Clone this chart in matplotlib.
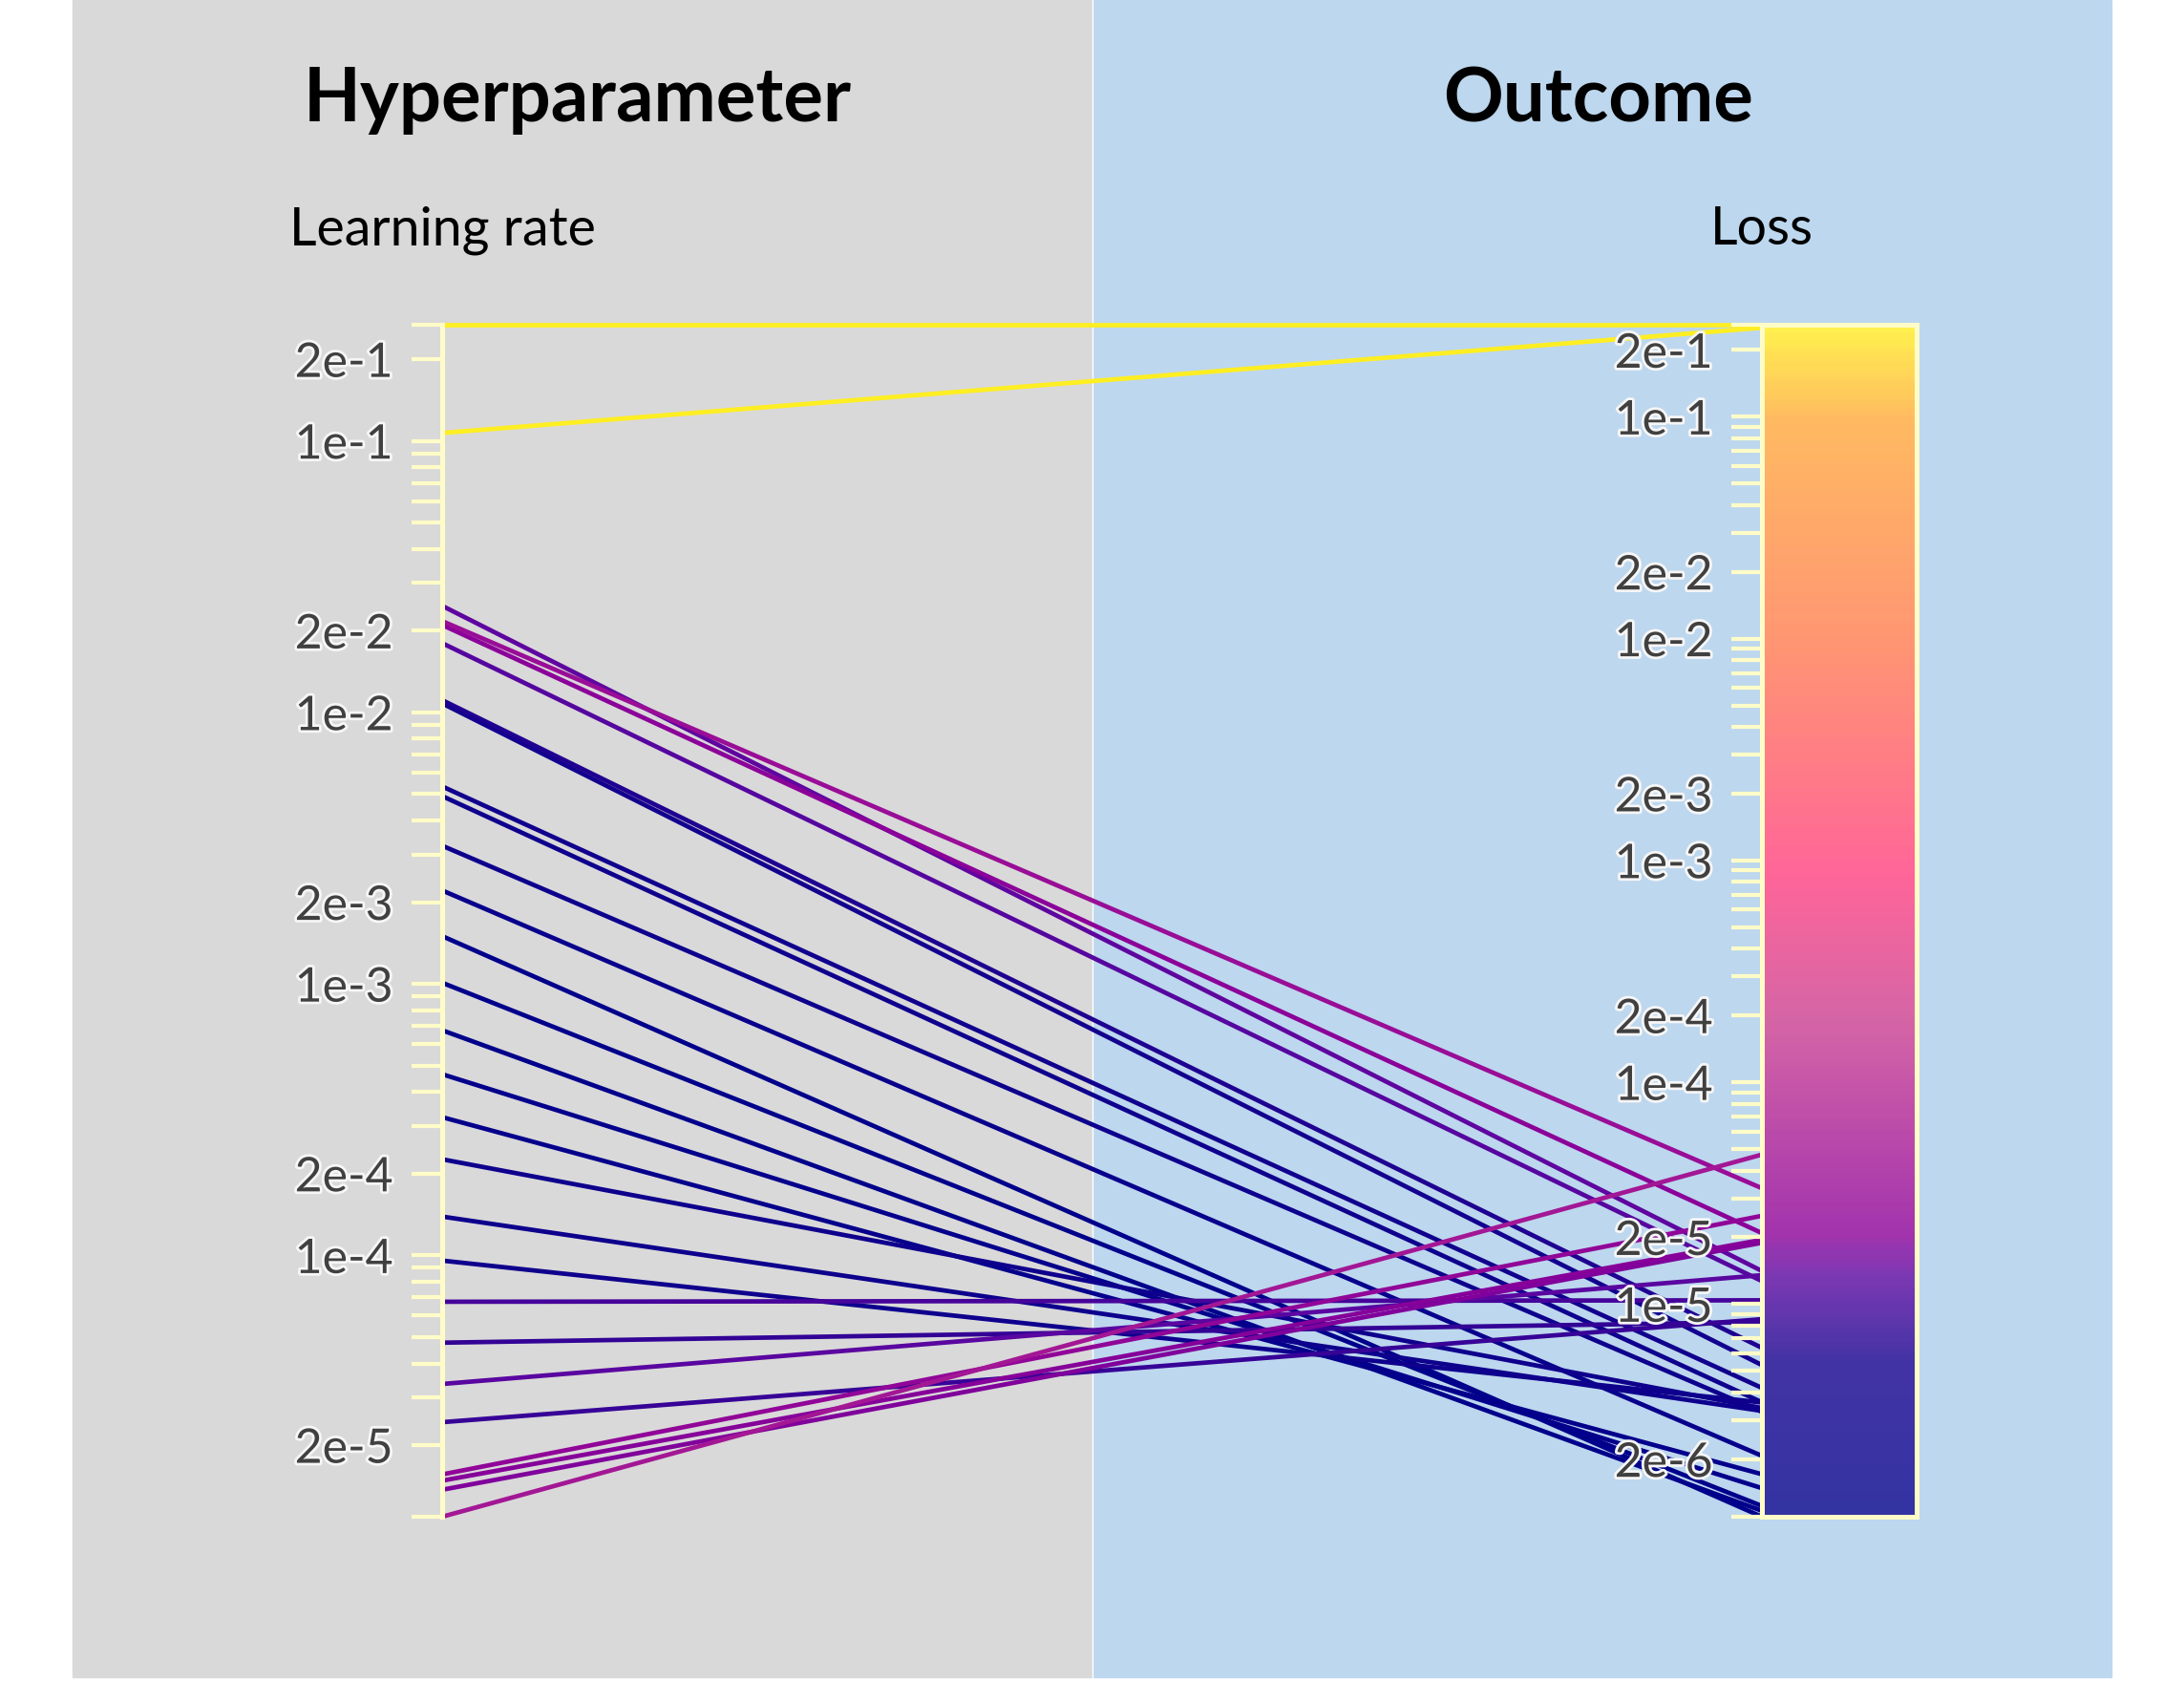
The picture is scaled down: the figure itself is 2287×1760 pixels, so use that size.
import numpy as np
import matplotlib
matplotlib.use("Agg")
import matplotlib.pyplot as plt
import matplotlib.patheffects as pe
from matplotlib.patches import Rectangle
from matplotlib.colors import LinearSegmentedColormap, LogNorm
from matplotlib.ticker import FixedLocator, FuncFormatter

# trials: learning rate -> loss
learning_rate = [0.268, 0.107, 0.0247, 0.0217, 0.0210, 0.0180, 0.0111, 0.0108,
                 0.00534, 0.00492, 0.00323, 0.00221, 0.00150, 0.00101, 0.000675,
                 0.000465, 0.000323, 0.000226, 0.000139, 9.57e-5, 6.75e-5, 4.77e-5,
                 3.36e-5, 2.43e-5, 1.56e-5, 1.48e-5, 1.37e-5, 1.09e-5]
loss = [0.26, 0.252, 1.41e-5, 3.33e-5, 2.09e-5, 1.27e-5, 6.35e-6, 5.31e-6,
        4.19e-6, 3.61e-6, 3.27e-6, 2.07e-6, 1.1e-6, 1.23e-6, 1.17e-6,
        1.48e-6, 1.71e-6, 3.4e-6, 3.3e-6, 3.6e-6, 1.04e-5, 8.3e-6,
        1.35e-5, 8.55e-6, 2.5e-5, 1.95e-5, 1.89e-5, 4.72e-5]

group_titles = ["Hyperparameter", "Outcome"]
axis_names = ["Learning rate", "Loss"]

plt.rcParams['font.family'] = ['Lato', 'DejaVu Sans']

AXIS_COL = '#fffcc8'
LABEL_COL = '#404040'
cmap = LinearSegmentedColormap.from_list('loss', [
    (0.0, '#00008b'), (0.13, '#14008e'), (0.2, '#5a06a0'), (0.235, '#8b0099'),
    (0.42, '#cc3f8f'), (0.54, '#ff3f7f'), (0.73, '#ff7a50'), (0.92, '#ffa83a'),
    (1.0, '#ffee22')])

lr = np.array(learning_rate)
ls = np.array(loss)
lr_lim = (lr.min(), lr.max())
ls_lim = (ls.min(), ls.max())
lr_norm = LogNorm(*lr_lim)
ls_norm = LogNorm(*ls_lim)

W, H = 2287, 1760
fig = plt.figure(figsize=(W / 100, H / 100), dpi=100)

# background panels
fig.add_artist(Rectangle((76 / W, 4 / H), (1144 - 76) / W, 1 - 4 / H,
                         transform=fig.transFigure, color='#d9d9d9', zorder=0))
fig.add_artist(Rectangle((1144 / W, 4 / H), (2211 - 1144) / W, 1 - 4 / H,
                         transform=fig.transFigure, color='#bdd7ee', zorder=0))
fig.add_artist(plt.Line2D([1144 / W, 1144 / W], [4 / H, 1], transform=fig.transFigure,
                          color='white', lw=1, zorder=0))

x_left, x_right, y_top, y_bot = 463, 1845, 340, 1588
pos = [x_left / W, (H - y_bot) / H, (x_right - x_left) / W, (y_bot - y_top) / H]

# lines in normalised coordinates
ax = fig.add_axes(pos)
ax.set_xlim(0, 1)
ax.set_ylim(0, 1)
ax.axis('off')
order = np.argsort(ls)
for i in order:
    ax.plot([0, 1], [lr_norm(lr[i]), ls_norm(ls[i])], color=cmap(ls_norm(ls[i])),
            lw=3.4, solid_capstyle='butt', clip_on=False)


def fmt(v, _):
    e = int(np.floor(np.log10(v) + 1e-9))
    m = int(round(v / 10 ** e))
    return f"{m}e{e}"


def style_log_axis(a, lim):
    a.set_yscale('log')
    a.set_ylim(*lim)
    lo, hi = np.floor(np.log10(lim[0])), np.ceil(np.log10(lim[1]))
    decades = 10.0 ** np.arange(lo, hi + 1)
    major = [d * m for d in decades for m in (1, 2) if lim[0] <= d * m <= lim[1]]
    minor = [d * m for d in decades for m in range(3, 10) if lim[0] <= d * m <= lim[1]]
    minor += [lim[0], lim[1]]
    a.yaxis.set_major_locator(FixedLocator(major))
    a.yaxis.set_minor_locator(FixedLocator(minor))
    a.yaxis.set_major_formatter(FuncFormatter(fmt))
    a.yaxis.set_minor_formatter(FuncFormatter(lambda v, _: ''))
    a.tick_params(axis='y', which='both', direction='out', length=23, width=3.0,
                  color=AXIS_COL, labelsize=36, labelcolor=LABEL_COL, pad=14)
    a.set_xticks([])
    a.spines['left'].set_color(AXIS_COL)
    a.spines['left'].set_linewidth(3.6)


ax_lr = fig.add_axes(pos)
ax_lr.patch.set_visible(False)
style_log_axis(ax_lr, lr_lim)
for s in ['top', 'right', 'bottom']:
    ax_lr.spines[s].set_visible(False)

# loss axis doubles as colour bar
cax = fig.add_axes([x_right / W, (H - y_bot) / H, (2007 - x_right) / W, (y_bot - y_top) / H])
style_log_axis(cax, ls_lim)
edges = np.logspace(np.log10(ls_lim[0]), np.log10(ls_lim[1]), 300)
centers = np.sqrt(edges[:-1] * edges[1:])
cax.pcolormesh([0, 1], edges, centers[:, None], cmap=cmap, norm=ls_norm, alpha=0.8,
               shading='flat')
cax.set_xlim(0, 1)
for s in cax.spines.values():
    s.set_color(AXIS_COL)
    s.set_linewidth(3.6)

# titles
fig.text(605 / W, 1 - 105 / H, group_titles[0], ha='center', va='center',
         fontsize=56, fontweight='bold', color='black')
fig.text(1674 / W, 1 - 105 / H, group_titles[1], ha='center', va='center',
         fontsize=56, fontweight='bold', color='black')
fig.text(x_left / W, 1 - 241 / H, axis_names[0], ha='center', va='center',
         fontsize=40, color='black')
fig.text(x_right / W, 1 - 241 / H, axis_names[1], ha='center', va='center',
         fontsize=40, color='black')

fig.canvas.draw()
for a in (ax_lr, cax):
    for t in a.get_yticklabels():
        t.set_path_effects([pe.withStroke(linewidth=4, foreground='#f6f6f6')])

fig.savefig('out.png', dpi=100)
